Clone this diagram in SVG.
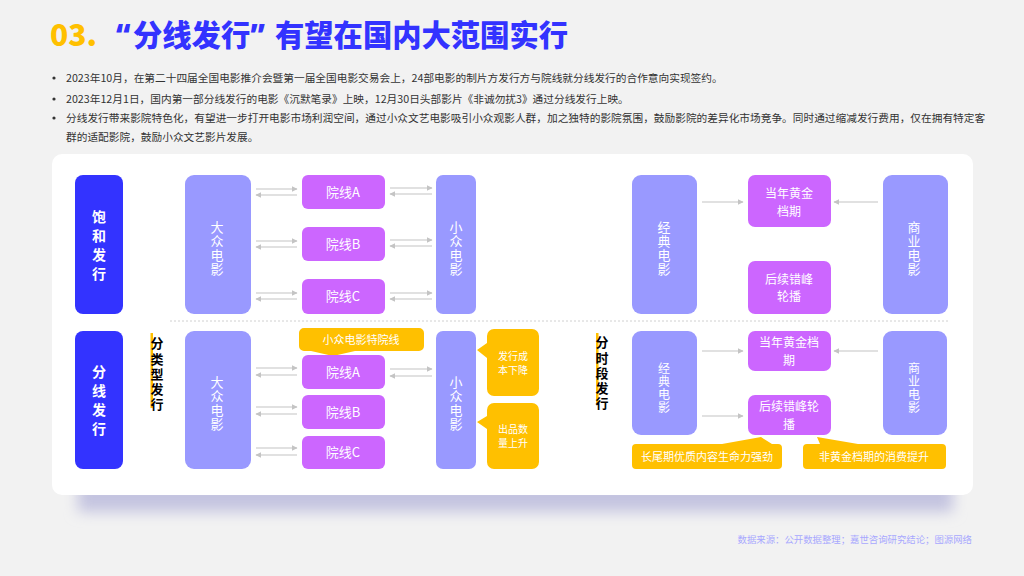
<svg xmlns="http://www.w3.org/2000/svg" width="1024" height="576" viewBox="0 0 1024 576">
<defs>
<style>
.t{font-family:"Noto Sans CJK SC","Noto Sans",sans-serif}
.body{font-size:10.7px;fill:#333}
.w{fill:#fff;text-anchor:middle}
.v{writing-mode:vertical-rl;text-anchor:middle}
.vb{font-size:14px;font-weight:700;letter-spacing:5px}
.vm{font-size:13px;letter-spacing:1px}
.vs{font-size:12px;letter-spacing:1px}
.box13{font-size:13px}
.two{font-size:12px}
.cb{font-size:10px}
.small{font-size:11px}
.lbl{font-size:13px;font-weight:700;fill:#000;letter-spacing:2.2px}
.blue{fill:#3333FF}
.lp{fill:#9999FF}
.mg{fill:#CC66FF}
.yl{fill:#FFC000}
.arr{stroke:#C4C4C4;stroke-width:1.2;fill:none;marker-end:url(#ah)}
</style>
<marker id="ah" viewBox="0 0 10 10" refX="9" refY="5" markerWidth="6" markerHeight="6" markerUnits="userSpaceOnUse" orient="auto">
<path d="M0,0 L10,5 L0,10 z" fill="#C4C4C4"/>
</marker>
<filter id="blur" x="-10%" y="-100%" width="120%" height="300%">
<feGaussianBlur stdDeviation="7"/>
</filter>
</defs>
<rect width="1024" height="576" fill="#F2F2F2"/>
<g id="title" class="t" font-weight="900">
<text x="50" y="46" font-size="30" fill="#FFC000">03.</text>
<text y="46" font-size="29.3" fill="#3333FF"><tspan x="116" font-family="Noto Sans, sans-serif">“</tspan><tspan x="133">分线发行</tspan><tspan font-family="Noto Sans, sans-serif">” </tspan><tspan x="275">有望在国内大范围实行</tspan></text>
</g>
<g id="bullets" class="t body">
<circle cx="54" cy="78" r="1.6" fill="#333"/>
<circle cx="54" cy="99" r="1.6" fill="#333"/>
<circle cx="54" cy="118" r="1.6" fill="#333"/>
<text x="66" y="82">2023年10月，在第二十四届全国电影推介会暨第一届全国电影交易会上，24部电影的制片方发行方与院线就分线发行的合作意向实现签约。</text>
<text x="66" y="103">2023年12月1日，国内第一部分线发行的电影《沉默笔录》上映，12月30日头部影片《非诚勿扰3》通过分线发行上映。</text>
<text x="66" y="122">分线发行带来影院特色化，有望进一步打开电影市场利润空间，通过小众文艺电影吸引小众观影人群，加之独特的影院氛围，鼓励影院的差异化市场竞争。同时通过缩减发行费用，仅在拥有特定客</text>
<text x="66" y="141">群的适配影院，鼓励小众文艺影片发展。</text>
</g>
<rect x="78" y="482" width="875" height="30" fill="#C4C4E0" filter="url(#blur)"/>
<rect id="card" x="52" y="154" width="921" height="341" rx="10" fill="#fff"/>
<line x1="170" y1="321" x2="950" y2="321" stroke="#D0D0D0" stroke-width="1" stroke-dasharray="2,2"/>

<g id="connectors">
<line class="arr" x1="256" y1="189" x2="297" y2="189"/>
<line class="arr" x1="297" y1="195" x2="256" y2="195"/>
<line class="arr" x1="256" y1="241" x2="297" y2="241"/>
<line class="arr" x1="297" y1="247" x2="256" y2="247"/>
<line class="arr" x1="256" y1="293" x2="297" y2="293"/>
<line class="arr" x1="297" y1="299" x2="256" y2="299"/>
<line class="arr" x1="390" y1="188" x2="432" y2="188"/>
<line class="arr" x1="432" y1="194" x2="390" y2="194"/>
<line class="arr" x1="390" y1="240" x2="432" y2="240"/>
<line class="arr" x1="432" y1="246" x2="390" y2="246"/>
<line class="arr" x1="390" y1="293" x2="432" y2="293"/>
<line class="arr" x1="432" y1="299" x2="390" y2="299"/>
<line class="arr" x1="702" y1="202" x2="743" y2="202"/>
<line class="arr" x1="878" y1="202" x2="834" y2="202"/>
<line class="arr" x1="256" y1="368" x2="297" y2="368"/>
<line class="arr" x1="297" y1="375" x2="256" y2="375"/>
<line class="arr" x1="256" y1="407" x2="297" y2="407"/>
<line class="arr" x1="297" y1="414" x2="256" y2="414"/>
<line class="arr" x1="256" y1="448" x2="297" y2="448"/>
<line class="arr" x1="297" y1="455" x2="256" y2="455"/>
<line class="arr" x1="390" y1="369" x2="432" y2="369"/>
<line class="arr" x1="432" y1="376" x2="390" y2="376"/>
<line class="arr" x1="702" y1="351" x2="743" y2="351"/>
<line class="arr" x1="702" y1="416" x2="743" y2="416"/>
<line class="arr" x1="878" y1="351" x2="834" y2="351"/>
</g>

<g id="n-baohe">
<rect class="blue" x="75" y="175" width="48" height="139" rx="8"/>
<text class="t w v vb" x="99" y="248">饱和发行</text>
</g>
<g id="n-fenxian">
<rect class="blue" x="75" y="331" width="48" height="138" rx="8"/>
<text class="t w v vb" x="99" y="402.5">分线发行</text>
</g>

<g id="n-dazhong1">
<rect class="lp" x="185" y="175" width="66" height="139" rx="9"/>
<text class="t w v vm" x="217" y="249">大众电影</text>
</g>
<g id="n-yxA1"><rect class="mg" x="302" y="175" width="83" height="34" rx="6"/><text class="t w box13" x="343" y="197">院线A</text></g>
<g id="n-yxB1"><rect class="mg" x="302" y="227" width="83" height="34" rx="6"/><text class="t w box13" x="343" y="249">院线B</text></g>
<g id="n-yxC1"><rect class="mg" x="302" y="279" width="83" height="35" rx="6"/><text class="t w box13" x="343" y="301">院线C</text></g>
<g id="n-xiaozhong1">
<rect class="lp" x="436" y="175" width="40" height="139" rx="7"/>
<text class="t w v vm" x="456" y="249">小众电影</text>
</g>
<g id="n-jingdian1">
<rect class="lp" x="632" y="175" width="65" height="139" rx="9"/>
<text class="t w v vm" x="664" y="249">经典电影</text>
</g>
<g id="n-dangnian1">
<rect class="mg" x="748" y="175" width="83" height="52" rx="7"/>
<text class="t w two"><tspan x="789" y="198">当年黄金</tspan><tspan x="789" y="215.5">档期</tspan></text>
</g>
<g id="n-houxu1">
<rect class="mg" x="748" y="261" width="83" height="53" rx="7"/>
<text class="t w two"><tspan x="789" y="283.5">后续错峰</tspan><tspan x="789" y="301">轮播</tspan></text>
</g>
<g id="n-shangye1">
<rect class="lp" x="883" y="175" width="65" height="139" rx="9"/>
<text class="t w v vm" x="914" y="249">商业电影</text>
</g>

<g id="n-fenleixing">
<rect class="yl" x="150.5" y="333" width="2.5" height="75"/>
<text class="t v lbl" x="157" y="375">分类型发行</text>
</g>
<g id="n-dazhong2">
<rect class="lp" x="185" y="331" width="66" height="138" rx="9"/>
<text class="t w v vm" x="217" y="404">大众电影</text>
</g>
<g id="n-texian">
<path class="yl" d="M304,328 H419 a5,5 0 0 1 5,5 V346 a5,5 0 0 1 -5,5 H355 L333,356 L311,351 H304 a5,5 0 0 1 -5,-5 V333 a5,5 0 0 1 5,-5 z"/>
<text class="t w small" x="361" y="344">小众电影特院线</text>
</g>
<g id="n-yxA2"><rect class="mg" x="302" y="355" width="83" height="34" rx="6"/><text class="t w box13" x="343" y="377">院线A</text></g>
<g id="n-yxB2"><rect class="mg" x="302" y="395" width="83" height="34" rx="6"/><text class="t w box13" x="343" y="417">院线B</text></g>
<g id="n-yxC2"><rect class="mg" x="302" y="436" width="83" height="33" rx="6"/><text class="t w box13" x="343" y="457">院线C</text></g>
<g id="n-xiaozhong2">
<rect class="lp" x="436" y="331" width="40" height="138" rx="7"/>
<text class="t w v vm" x="456" y="404">小众电影</text>
</g>
<g id="n-chengben">
<path class="yl" d="M494,329 H532 a7,7 0 0 1 7,7 V389 a7,7 0 0 1 -7,7 H494 a7,7 0 0 1 -7,-7 V358 L477,350 L487,343 V336 a7,7 0 0 1 7,-7 z"/>
<text class="t w cb"><tspan x="513" y="359.8">发行成</tspan><tspan x="513" y="374.4">本下降</tspan></text>
</g>
<g id="n-chupin">
<path class="yl" d="M494,403 H532 a7,7 0 0 1 7,7 V462 a7,7 0 0 1 -7,7 H494 a7,7 0 0 1 -7,-7 V429 L477,422 L487,416 V410 a7,7 0 0 1 7,-7 z"/>
<text class="t w cb"><tspan x="513" y="432.6">出品数</tspan><tspan x="513" y="447.2">量上升</tspan></text>
</g>

<g id="n-fenshiduan">
<rect class="yl" x="596" y="333" width="2.5" height="70"/>
<text class="t v lbl" x="602" y="374">分时段发行</text>
</g>
<g id="n-jingdian2">
<rect class="lp" x="632" y="331" width="65" height="104" rx="9"/>
<text class="t w v vs" x="664" y="388">经典电影</text>
</g>
<g id="n-dangnian2">
<rect class="mg" x="748" y="331" width="83" height="40" rx="7"/>
<text class="t w two"><tspan x="789" y="347">当年黄金档</tspan><tspan x="789" y="364.5">期</tspan></text>
</g>
<g id="n-houxu2">
<rect class="mg" x="748" y="395" width="83" height="40" rx="7"/>
<text class="t w two"><tspan x="789" y="411">后续错峰轮</tspan><tspan x="789" y="428.5">播</tspan></text>
</g>
<g id="n-shangye2">
<rect class="lp" x="883" y="331" width="64" height="104" rx="9"/>
<text class="t w v vs" x="914" y="388">商业电影</text>
</g>
<g id="n-changwei">
<path class="yl" d="M636,444 H722 L761,437 L772,444 H778 a4,4 0 0 1 4,4 V465 a4,4 0 0 1 -4,4 H636 a4,4 0 0 1 -4,-4 V448 a4,4 0 0 1 4,-4 z"/>
<text class="t w small" x="707" y="461">长尾期优质内容生命力强劲</text>
</g>
<g id="n-feihuangjin">
<path class="yl" d="M807,444 H820 L817,437 L858,444 H942 a4,4 0 0 1 4,4 V465 a4,4 0 0 1 -4,4 H807 a4,4 0 0 1 -4,-4 V448 a4,4 0 0 1 4,-4 z"/>
<text class="t w small" x="874" y="461">非黄金档期的消费提升</text>
</g>

<text class="t" x="972" y="543" font-size="9.4" fill="#A8A8FF" text-anchor="end">数据来源：公开数据整理；嘉世咨询研究结论；图源网络</text>
</svg>
